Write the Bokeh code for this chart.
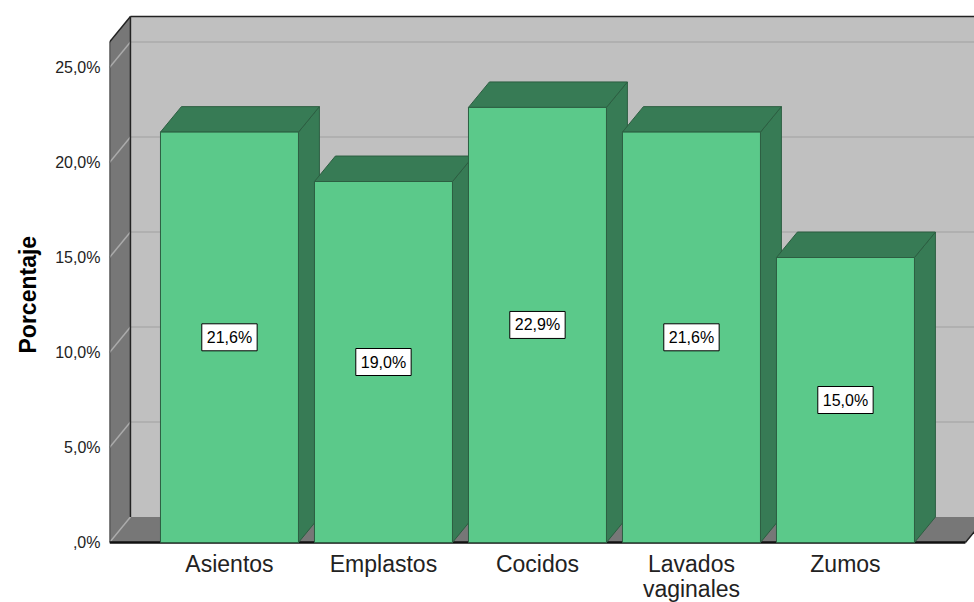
from bokeh.plotting import figure
from bokeh.models import Range1d, FixedTicker, Title
from bokeh.core.properties import value
from bokeh.embed import file_html
from bokeh.resources import INLINE

# ---- data ----
categories = ["Asientos", "Emplastos", "Cocidos", "Lavados\nvaginales", "Zumos"]
percentages = [21.6, 19.0, 22.9, 21.6, 15.0]
value_labels = ["21,6%", "19,0%", "22,9%", "21,6%", "15,0%"]
tick_values = [0, 5, 10, 15, 20, 25]
tick_labels = [",0%", "5,0%", "10,0%", "15,0%", "20,0%", "25,0%"]
y_title = "Porcentaje"

# ---- geometry / style ----
BAR_W = 0.896
DX = 0.136       # 3D depth offset (x, category units)
DY = 1.34        # 3D depth offset (y, percent units)
WALL_TOP = 26.34
X_L = -0.779
X_R = 4.779
FONT = value("Liberation Sans")

FRONT = "#5BC98A"
DARK = "#377B55"
EDGE = "#2C5E41"
WALL = "#C0C0C0"
SIDEWALL = "#777777"
GRID = "#ABABAB"

W, H = 974, 602
LEFT, TOP = 109, 10
PX_X, PX_Y = 154.0, 19.0
p = figure(width=W, height=H,
           x_range=Range1d(X_L, X_L + (W - LEFT) / PX_X),
           y_range=Range1d(-(H - 542) / PX_Y, (542 - TOP) / PX_Y),
           output_backend="svg", toolbar_location=None,
           x_axis_location=None,
           min_border_left=LEFT, min_border_right=0,
           min_border_top=TOP, min_border_bottom=0)
p.outline_line_color = None
p.xgrid.visible = False
p.ygrid.visible = False
p.background_fill_color = "white"
p.border_fill_color = "white"

# ---- walls ----
p.quad(left=X_L + DX, right=X_R + DX + 1, bottom=DY, top=WALL_TOP + DY,
       fill_color=WALL, line_color=None)
p.patch([X_L, X_L + DX, X_L + DX, X_L], [0, DY, WALL_TOP + DY, WALL_TOP],
        fill_color=SIDEWALL, line_color=None)
p.patch([X_L, X_L + DX, X_R + DX, X_R], [0, DY, DY, 0],
        fill_color=SIDEWALL, line_color=None)

# gridlines on back wall and left wall
gt = tick_values[1:]
p.segment(x0=[X_L + DX] * len(gt), y0=[t + DY for t in gt],
          x1=[X_R + DX + 1] * len(gt), y1=[t + DY for t in gt],
          line_color=GRID, line_width=1.5)
p.segment(x0=[X_L] * len(tick_values), y0=tick_values,
          x1=[X_L + DX] * len(tick_values), y1=[t + DY for t in tick_values],
          line_color=GRID, line_width=1.5)

# box edges
p.segment(x0=[X_L + DX, X_L, X_L + DX, X_L, X_R],
          y0=[WALL_TOP + DY, WALL_TOP, DY, 0, 0],
          x1=[X_R + DX + 1, X_L + DX, X_L + DX, X_L, X_R + DX],
          y1=[WALL_TOP + DY, WALL_TOP + DY, WALL_TOP + DY, WALL_TOP, DY],
          line_color="#222222", line_width=1.5)
p.segment(x0=[X_L], y0=[0], x1=[X_R], y1=[0], line_color="#111111", line_width=2.5)

# ---- 3D bars ----
hw = BAR_W / 2
xs = list(range(len(percentages)))
side_xs = [[i + hw, i + hw + DX, i + hw + DX, i + hw] for i in xs]
side_ys = [[0, DY, v + DY, v] for v in percentages]
top_xs = [[i - hw, i - hw + DX, i + hw + DX, i + hw] for i in xs]
top_ys = [[v, v + DY, v + DY, v] for v in percentages]
p.patches(side_xs, side_ys, fill_color=DARK, line_color=EDGE, line_width=1)
p.patches(top_xs, top_ys, fill_color=DARK, line_color=EDGE, line_width=1)
p.quad(left=[i - hw for i in xs], right=[i + hw for i in xs],
       bottom=0, top=percentages, fill_color=FRONT, line_color=EDGE, line_width=1)

# value labels
p.text(x=xs, y=[v / 2 for v in percentages], text=value_labels,
       text_align="center", text_baseline="middle",
       text_font=FONT, text_font_size="16px", text_color="black",
       background_fill_color="white", border_line_color="black",
       border_line_width=1, padding=5)

# category labels
p.text(x=xs, y=[-0.47] * len(xs), text=categories,
       text_align="center", text_baseline="top",
       text_font=FONT, text_font_size="23px", text_color="#222222",
       text_line_height=0.96)

# ---- y axis ----
ya = p.yaxis[0]
ya.ticker = FixedTicker(ticks=tick_values)
ya.major_label_overrides = {t: l for t, l in zip(tick_values, tick_labels)}
ya.axis_line_color = None
ya.major_tick_line_color = None
ya.minor_tick_line_color = None
ya.major_tick_out = 0
ya.major_tick_in = 0
ya.major_label_standoff = 9
ya.major_label_text_font = "Liberation Sans"
ya.major_label_text_font_size = "16px"
ya.major_label_text_color = "#222222"

# y-axis title, placed on the left side
p.add_layout(Title(text=y_title, align="left", offset=249,
                   vertical_align="top", standoff=20,
                   text_font="Liberation Sans", text_font_style="bold",
                   text_font_size="23px", text_color="black"), "left")

open("out.html", "w").write(file_html(p, INLINE))
